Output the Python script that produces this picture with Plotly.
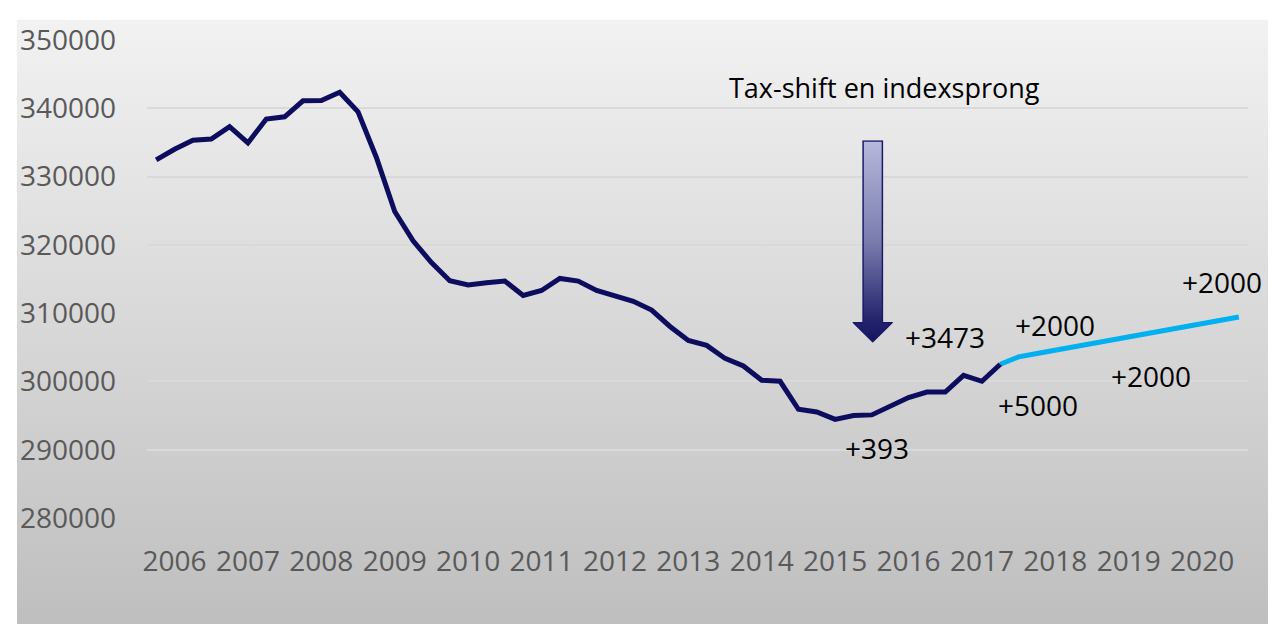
import base64
import plotly.graph_objects as go

# ---------------- data ----------------
years = ["2006", "2007", "2008", "2009", "2010", "2011", "2012", "2013",
         "2014", "2015", "2016", "2017", "2018", "2019", "2020"]

actual = [332440, 334000, 335310, 335510, 337320, 334930, 338420, 338750,
          341100, 341150, 342340, 339470, 332800, 324890, 320590, 317400,
          314750, 314130, 314460, 314700, 312600, 313320, 315080, 314700,
          313320, 312600, 311740, 310450, 308050, 306000, 305280, 303370,
          302270, 300160, 300020, 295920, 295530, 294450, 295000, 295100,
          296340, 297630, 298440, 298440, 300880, 300020, 302510]

projection = [302510, 303600, 304090, 304570, 305060, 305540, 306030,
              306520, 307000, 307490, 307970, 308460, 308950, 309430]

y_ticks = [280000, 290000, 300000, 310000, 320000, 330000, 340000, 350000]

labels = ["+393", "+3473", "+2000", "+5000", "+2000", "+2000"]
label_x = [39.28, 42.99, 48.99, 48.04, 54.2, 58.1]
label_y = [289930, 306270, 307910, 296240, 300550, 314300]
title_text = "Tax-shift en indexsprong"
title_x, title_y = 39.69, 342440

# quarter positions (index along the quarterly category axis)
n_q = len(years) * 4
x_actual = list(range(len(actual)))
x_proj = list(range(len(actual) - 1, len(actual) - 1 + len(projection)))
tick_pos = [4 * k + 1 for k in range(len(years))]

# ---------------- layout geometry ----------------
W, H = 1276, 624
L, R, T, B = 131, 36, 21, 114
PW, PH = W - L - R, H - T - B


def svg_uri(svg):
    return "data:image/svg+xml;base64," + base64.b64encode(svg.encode()).decode()


bg_svg = (
    f'<svg xmlns="http://www.w3.org/2000/svg" width="{W}" height="{H}" '
    f'viewBox="0 0 {W} {H}" preserveAspectRatio="none">'
    '<defs><linearGradient id="g" x1="0" y1="0" x2="0" y2="1">'
    '<stop offset="0" stop-color="#F2F2F2"/>'
    '<stop offset="1" stop-color="#BEBEBE"/>'
    '</linearGradient></defs>'
    f'<rect x="0" y="0" width="{W}" height="{H}" fill="url(#g)"/></svg>'
)

arrow_svg = (
    '<svg xmlns="http://www.w3.org/2000/svg" width="41" height="207" '
    'viewBox="0 0 41 207" preserveAspectRatio="none">'
    '<defs><linearGradient id="a" x1="0" y1="0" x2="0" y2="1">'
    '<stop offset="0" stop-color="#B6B8DC"/>'
    '<stop offset="0.5" stop-color="#7A7CAE"/>'
    '<stop offset="0.88" stop-color="#26266F"/>'
    '<stop offset="1" stop-color="#15135E"/>'
    '</linearGradient></defs>'
    '<path d="M10.7,0.8 L30.3,0.8 L30.3,186.5 L40.2,186.5 L20.5,206 '
    'L0.8,186.5 L10.7,186.5 Z" fill="url(#a)" stroke="#1A1868" '
    'stroke-width="1.5" stroke-linejoin="miter"/></svg>'
)

fig = go.Figure()
fig.add_trace(go.Scatter(x=x_proj, y=projection, mode="lines",
                         line=dict(color="#00B0F0", width=5),
                         hoverinfo="skip", showlegend=False))
fig.add_trace(go.Scatter(x=x_actual, y=actual, mode="lines",
                         line=dict(color="#0E0C5E", width=5),
                         hoverinfo="skip", showlegend=False))

images = [
    dict(source=svg_uri(bg_svg), xref="paper", yref="paper",
         x=-L / PW, y=1 + T / PH, sizex=W / PW, sizey=H / PH,
         xanchor="left", yanchor="top", sizing="stretch", layer="below"),
    dict(source=svg_uri(arrow_svg), xref="x", yref="y",
         x=39.05 - 1.1, y=335310, sizex=2.2, sizey=335310 - 305670,
         xanchor="left", yanchor="top", sizing="stretch", layer="above"),
]

annotations = []
for t, xx, yy in zip(labels, label_x, label_y):
    annotations.append(dict(x=xx, y=yy, xref="x", yref="y", text=t, showarrow=False,
                            yshift=2,
                            font=dict(family="Open Sans", size=28, color="#000000")))
annotations.append(dict(x=title_x, y=title_y, xref="x", yref="y", text=title_text,
                        showarrow=False, yshift=4,
                        font=dict(family="Open Sans", size=27, color="#000000")))

fig.update_layout(
    width=W, height=H,
    margin=dict(l=L, r=R, t=T, b=B, pad=0),
    paper_bgcolor="#FFFFFF", plot_bgcolor="rgba(0,0,0,0)",
    images=images, annotations=annotations,
    font=dict(family="Open Sans", color="#595959"),
    xaxis=dict(range=[-0.5, n_q - 0.5], tickmode="array", tickvals=tick_pos,
               ticktext=years, showgrid=False, zeroline=False, showline=False,
               ticks="", tickfont=dict(size=28, color="#595959"),
               ticklabelstandoff=24, fixedrange=True),
    yaxis=dict(range=[280000, 350000], tickmode="array", tickvals=y_ticks,
               tickformat="d", showgrid=True, gridcolor="#D9D9D9", gridwidth=1.5,
               zeroline=False, showline=False, ticks="",
               tickfont=dict(size=28, color="#595959"),
               ticklabelstandoff=30, fixedrange=True),
)

fig.write_html("out.html")
